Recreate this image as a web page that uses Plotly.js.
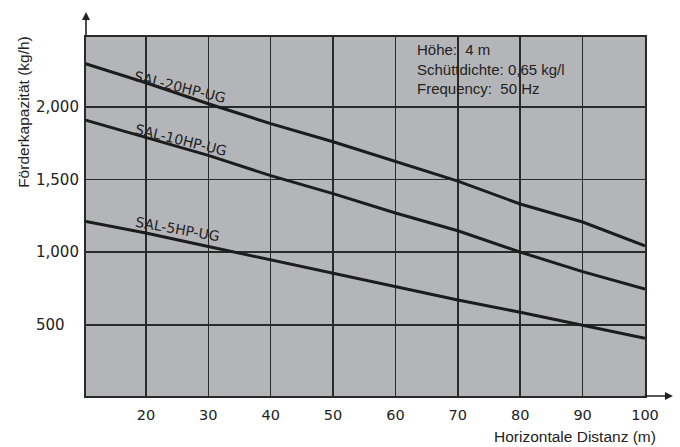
<!DOCTYPE html>
<html>
<head>
<meta charset="utf-8">
<script src="https://cdn.plot.ly/plotly-3.0.1.min.js"></script>
<style>html,body{margin:0;padding:0;background:#fff}#chart{width:680px;height:447px}</style>
</head>
<body>
<div id="chart"></div>
<script>
// Data
const distance = [10, 20, 30, 40, 50, 60, 70, 80, 90, 100];
const sal20 = [2300, 2165, 2021, 1884, 1759, 1625, 1488, 1331, 1207, 1043];
const sal10 = [1912, 1790, 1666, 1526, 1402, 1269, 1147, 1000, 866, 745];
const sal5  = [1214, 1131, 1039, 947, 859, 768, 671, 586, 494, 407];
const seriesNames = ["SAL-20HP-UG", "SAL-10HP-UG", "SAL-5HP-UG"];
const xTickVals = [20, 30, 40, 50, 60, 70, 80, 90, 100];
const yTickVals = [500, 1000, 1500, 2000];
const yTickText = ["500", "1,000", "1,500", "2,000"];
const noteLines = ["Höhe:\u00a0 4 m", "Schüttdichte: 0,65 kg/l", "Frequency:\u00a0 50 Hz"];

const lineStyle = {color: "#1c1c1c", width: 3};
const traces = [sal20, sal10, sal5].map((ys, i) => ({
  x: distance, y: ys, type: "scatter", mode: "lines",
  name: seriesNames[i], line: lineStyle, hoverinfo: "skip"
}));

const tickFont = {family: "DejaVu Sans", size: 14.5, color: "#222"};
const textFont = {family: "Liberation Sans, Arial", size: 15.5, color: "#222"};
const labelFont = {family: "DejaVu Sans", size: 14, color: "#222"};

const annotations = [
  // series labels
  {x: 25.5, y: 2137, xref: "x", yref: "y", text: seriesNames[0], showarrow: false, textangle: 14,
   xanchor: "center", yanchor: "middle", font: labelFont},
  {x: 25.66, y: 1771, xref: "x", yref: "y", text: seriesNames[1], showarrow: false, textangle: 14,
   xanchor: "center", yanchor: "middle", font: labelFont},
  {x: 25.0, y: 1157, xref: "x", yref: "y", text: seriesNames[2], showarrow: false, textangle: 10,
   xanchor: "center", yanchor: "middle", font: labelFont},
  // axis titles
  {x: -0.113, y: 0.791, xref: "paper", yref: "paper", text: "Förderkapazität (kg/h)", showarrow: false,
   textangle: -90, xanchor: "center", yanchor: "middle", font: textFont},
  {x: 1.0233, y: -0.114, xref: "paper", yref: "paper", text: "Horizontale Distanz (m)", showarrow: false,
   xanchor: "right", yanchor: "middle", font: textFont},
  // axis arrows
  {x: 0, y: 1.0696, xref: "paper", yref: "paper", text: "", showarrow: true, ax: 0, ay: 26,
   arrowhead: 2, arrowsize: 1, arrowwidth: 1.6, arrowcolor: "#222"},
  {x: 1.05, y: 0, xref: "paper", yref: "paper", text: "", showarrow: true, ax: -30, ay: 0,
   arrowhead: 2, arrowsize: 1, arrowwidth: 1.6, arrowcolor: "#222"},
  // note box text
  {x: 0.5886, y: 0.9095, xref: "paper", yref: "paper", text: noteLines.join("<br>"), showarrow: false,
   xanchor: "left", yanchor: "middle", align: "left",
   font: {family: "Liberation Sans, Arial", size: 15, color: "#222"}}
];

const layout = {
  width: 680, height: 447,
  margin: {l: 86, r: 35, t: 37, b: 51},
  paper_bgcolor: "#ffffff",
  plot_bgcolor: "rgb(180,181,185)",
  showlegend: false,
  xaxis: {
    range: [10.4, 100], tickvals: xTickVals, ticks: "outside", ticklen: 5, tickcolor: "rgba(0,0,0,0)",
    tickfont: tickFont,
    showgrid: true, gridcolor: "#2a2a2a", gridwidth: 1.5, zeroline: false,
    showline: true, linecolor: "#2a2a2a", linewidth: 2, mirror: true, fixedrange: true
  },
  yaxis: {
    range: [10, 2480], tickvals: yTickVals, ticktext: yTickText, ticks: "",
    tickfont: {family: "DejaVu Sans", size: 15, color: "#222"},
    ticklabelposition: "inside", ticklabelstandoff: -50,
    showgrid: true, gridcolor: "#2a2a2a", gridwidth: 1.5, zeroline: false,
    showline: true, linecolor: "#2a2a2a", linewidth: 2, mirror: true, fixedrange: true
  },
  annotations: annotations
};

Plotly.newPlot("chart", traces, layout, {displayModeBar: false, staticPlot: true});
</script>
</body>
</html>
